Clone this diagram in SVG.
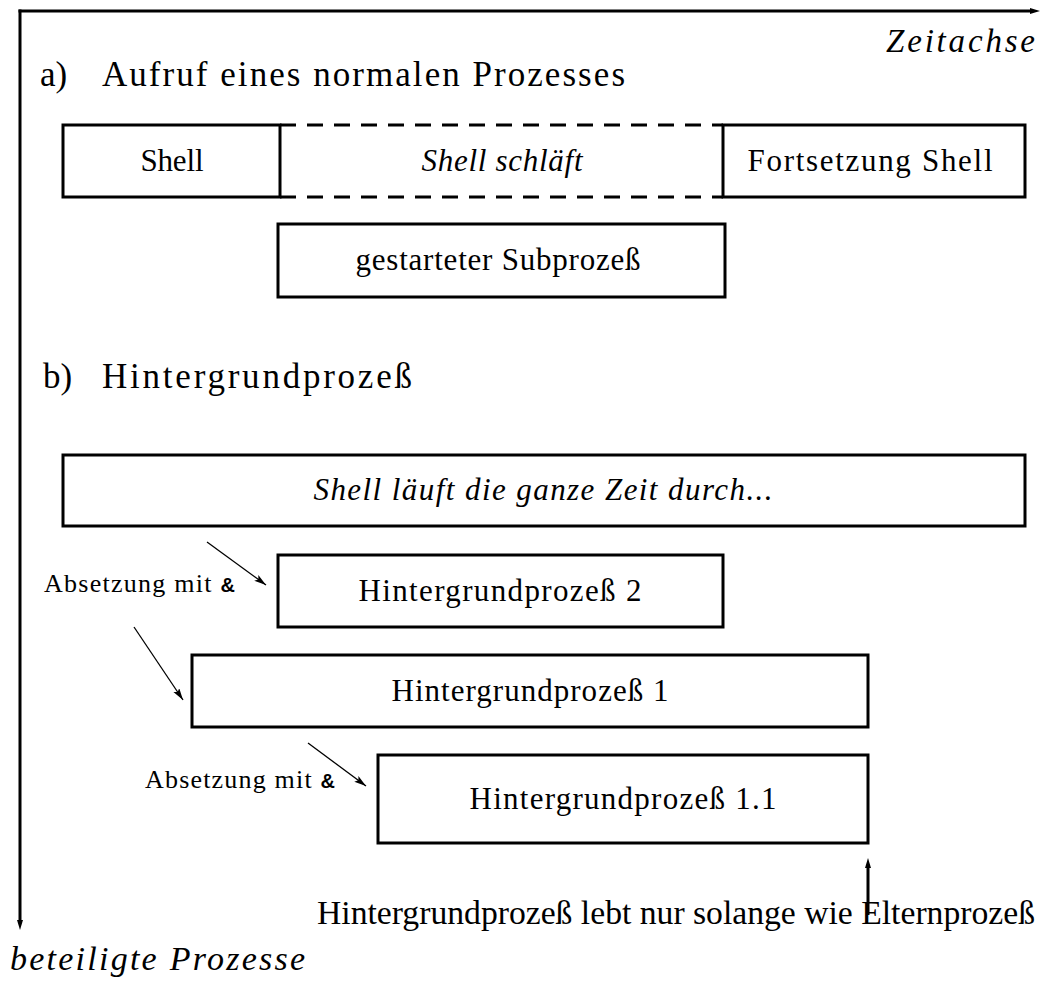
<svg xmlns="http://www.w3.org/2000/svg" width="1045" height="989" viewBox="0 0 1045 989">
<style>
  .box{fill:none;stroke:#000;stroke-width:3}
  .dash{fill:none;stroke:#000;stroke-width:3;stroke-dasharray:16 11}
  .axis{fill:none;stroke:#000;stroke-width:3}
  .thin{fill:none;stroke:#000;stroke-width:1.3}
  text{font-family:"Liberation Serif","Times New Roman",serif;fill:#000}
  .it{font-style:italic}
  .h{font-size:35px}
  .t{font-size:31px}
  .s{font-size:26px}
  .amp{font-family:"Liberation Sans",Arial,sans-serif;font-weight:bold;font-size:20px}
</style>
<defs>
  <marker id="axh" markerUnits="userSpaceOnUse" markerWidth="12" markerHeight="8" refX="1" refY="3" orient="auto">
    <path d="M0,0 L10,3 L0,6 Z" fill="#000"/>
  </marker>
  <marker id="ah" markerUnits="userSpaceOnUse" markerWidth="14" markerHeight="8" refX="12" refY="3.5" orient="auto">
    <path d="M0,0 L12,3.5 L0,7 L2.5,3.5 Z" fill="#000"/>
  </marker>
</defs>
<rect width="1045" height="989" fill="#fff"/>

<g id="axes">
  <line class="axis" x1="18.5" y1="11" x2="1031" y2="11" marker-end="url(#axh)"/>
  <line class="axis" x1="20" y1="9.5" x2="20" y2="921" marker-end="url(#axh)"/>
  <text class="it" x="886" y="52" font-size="33" textLength="149" lengthAdjust="spacing">Zeitachse</text>
  <text class="it" x="10" y="970" font-size="34" textLength="295" lengthAdjust="spacing">beteiligte Prozesse</text>
</g>

<g id="heading-a">
  <text class="h" x="40" y="86">a)</text>
  <text class="h" x="102" y="86" textLength="523" lengthAdjust="spacing">Aufruf eines normalen Prozesses</text>
</g>

<g id="shell">
  <rect class="box" x="63" y="125" width="217" height="72"/>
  <text class="t" x="172" y="171" text-anchor="middle" textLength="63" lengthAdjust="spacing">Shell</text>
</g>

<g id="shell-sleeps">
  <line class="dash" x1="280" y1="125" x2="723" y2="125"/>
  <line class="dash" x1="280" y1="197" x2="723" y2="197"/>
  <text class="t it" x="502" y="171" text-anchor="middle" textLength="161" lengthAdjust="spacing">Shell schläft</text>
</g>

<g id="shell-continued">
  <rect class="box" x="723" y="125" width="302" height="72"/>
  <text class="t" x="870" y="171" text-anchor="middle" textLength="245" lengthAdjust="spacing">Fortsetzung Shell</text>
</g>

<g id="subprocess">
  <rect class="box" x="278" y="224" width="447" height="73"/>
  <text class="t" x="498" y="270" text-anchor="middle" textLength="285" lengthAdjust="spacing">gestarteter Subprozeß</text>
</g>

<g id="heading-b">
  <text class="h" x="43" y="388">b)</text>
  <text class="h" x="102" y="388" textLength="310" lengthAdjust="spacing">Hintergrundprozeß</text>
</g>

<g id="shell-runs">
  <rect class="box" x="63" y="455" width="962" height="71"/>
  <text class="t it" x="543" y="500" text-anchor="middle" textLength="459" lengthAdjust="spacing">Shell läuft die ganze Zeit durch...</text>
</g>

<g id="bg2">
  <rect class="box" x="278" y="555" width="445" height="72"/>
  <text class="t" x="500" y="601" text-anchor="middle" textLength="283" lengthAdjust="spacing">Hintergrundprozeß 2</text>
</g>

<g id="bg1">
  <rect class="box" x="192" y="655" width="676" height="72"/>
  <text class="t" x="530" y="701" text-anchor="middle" textLength="277" lengthAdjust="spacing">Hintergrundprozeß 1</text>
</g>

<g id="bg11">
  <rect class="box" x="378" y="755" width="490" height="88"/>
  <text class="t" x="623" y="809" text-anchor="middle" textLength="307" lengthAdjust="spacing">Hintergrundprozeß 1.1</text>
</g>

<g id="label-amp1">
  <text class="s" x="44" y="592" textLength="191" lengthAdjust="spacing">Absetzung mit <tspan class="amp">&amp;</tspan></text>
</g>

<g id="label-amp2">
  <text class="s" x="145" y="788" textLength="190" lengthAdjust="spacing">Absetzung mit <tspan class="amp">&amp;</tspan></text>
</g>

<g id="label-lifetime">
  <text x="317" y="924" font-size="34" textLength="718" lengthAdjust="spacingAndGlyphs">Hintergrundprozeß lebt nur solange wie Elternprozeß</text>
</g>

<g id="connectors">
  <line class="thin" x1="207" y1="542" x2="266" y2="585" marker-end="url(#ah)"/>
  <line class="thin" x1="134" y1="627" x2="183" y2="700" marker-end="url(#ah)"/>
  <line class="thin" x1="308" y1="743" x2="366" y2="786" marker-end="url(#ah)"/>
  <line class="axis" x1="868" y1="915" x2="868" y2="867" marker-end="url(#axh)"/>
</g>
</svg>
